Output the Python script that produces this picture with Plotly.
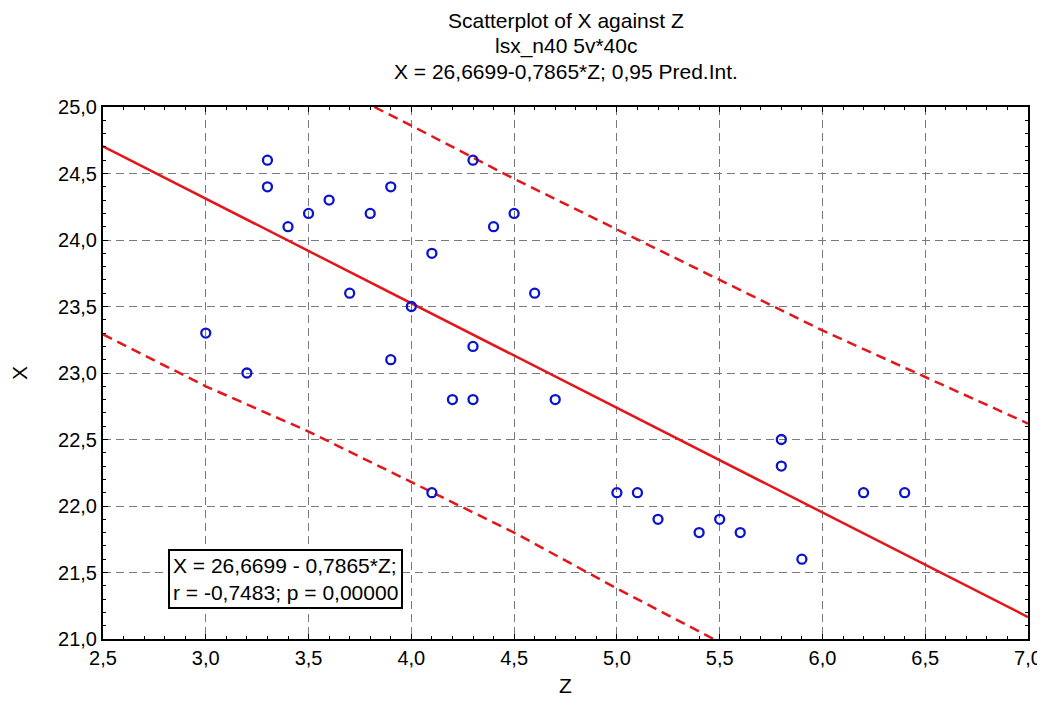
import plotly.graph_objects as go

# Observed data (Z, X)
z_vals = [3.0, 3.2, 3.3, 3.3, 3.4, 3.5, 3.6, 3.7, 3.8, 3.9, 3.9, 4.0, 4.1, 4.1,
          4.2, 4.3, 4.3, 4.3, 4.4, 4.5, 4.6, 4.7, 5.0, 5.1, 5.2, 5.4, 5.5, 5.6,
          5.8, 5.8, 5.9, 6.2, 6.4]
x_vals = [23.3, 23.0, 24.6, 24.4, 24.1, 24.2, 24.3, 23.6, 24.2, 24.4, 23.1, 23.5, 23.9, 22.1,
          22.8, 22.8, 23.2, 24.6, 24.1, 24.2, 23.6, 22.8, 22.1, 22.1, 21.9, 21.8, 21.9, 21.8,
          22.5, 22.3, 21.6, 22.1, 22.1]

# Regression line end points
reg_z = [2.5, 7.0]
reg_x = [24.704, 21.165]

# 0.95 prediction interval
upper_z = [3.82, 4.0, 4.5, 5.0, 5.5, 6.0, 6.5, 7.0]
upper_x = [25.0, 24.86, 24.46, 24.08, 23.70, 23.32, 22.97, 22.62]
lower_z = [2.5, 3.0, 3.5, 4.0, 4.5, 5.0, 5.47]
lower_x = [23.29, 22.90, 22.56, 22.18, 21.80, 21.38, 21.0]

x_ticks = [2.5, 3.0, 3.5, 4.0, 4.5, 5.0, 5.5, 6.0, 6.5, 7.0]
y_ticks = [21.0, 21.5, 22.0, 22.5, 23.0, 23.5, 24.0, 24.5, 25.0]

title_lines = ["Scatterplot of X against Z",
               "lsx_n40 5v*40c",
               "X = 26,6699-0,7865*Z; 0,95 Pred.Int."]

RED = "#E3161B"
BLUE = "#0A14CC"
FONT = "Liberation Sans, Arial, sans-serif"

# page has an 8px body margin; compensate so the plot area lands where the reference has it
OFF = 8
W, H = 1045 - OFF, 710 - OFF
ML, MR, MT, MB = 103 - OFF, 17, 107 - OFF, 71
PH = H - MT - MB

fig = go.Figure()
fig.add_trace(go.Scatter(x=upper_z, y=upper_x, mode="lines",
                         line=dict(color=RED, width=2.5, dash="10px,6px"), hoverinfo="skip"))
fig.add_trace(go.Scatter(x=lower_z, y=lower_x, mode="lines",
                         line=dict(color=RED, width=2.5, dash="10px,6px"), hoverinfo="skip"))
fig.add_trace(go.Scatter(x=reg_z, y=reg_x, mode="lines",
                         line=dict(color=RED, width=2.5), hoverinfo="skip"))
fig.add_trace(go.Scatter(x=z_vals, y=x_vals, mode="markers",
                         marker=dict(symbol="circle-open", size=9, color=BLUE,
                                     line=dict(color=BLUE, width=2.3))))

axis_common = dict(
    showline=True, linecolor="black", linewidth=2, mirror="allticks",
    ticks="inside", ticklen=5, tickwidth=1, tickcolor="black",
    showgrid=True, gridcolor="#7a7a7a", gridwidth=1, griddash="8px,5px",
    zeroline=False, tickformat=".1f", automargin=False,
    tickfont=dict(family=FONT, size=20, color="black"),
)

fig.update_xaxes(range=[2.5, 7.0], tickvals=x_ticks,
                 minor=dict(ticks="inside", dtick=0.1, ticklen=3, tickcolor="black", showgrid=False),
                 title=dict(text="Z", font=dict(family=FONT, size=21, color="black"), standoff=10),
                 **axis_common)
fig.update_yaxes(range=[21.0, 25.0], tickvals=y_ticks,
                 minor=dict(ticks="inside", dtick=0.1, ticklen=3, tickcolor="black", showgrid=False),
                 title=dict(text="X", font=dict(family=FONT, size=21, color="black"), standoff=34),
                 **axis_common)

fig.add_annotation(
    x=2.816, y=21.45, xref="x", yref="y", xanchor="left", yanchor="middle",
    text="X = 26,6699 - 0,7865*Z;<br>r = -0,7483; p = 0,00000",
    showarrow=False, align="left",
    font=dict(family=FONT, size=21, color="black"),
    bgcolor="white", bordercolor="black", borderwidth=2, borderpad=3,
)

for txt, ypx in zip(title_lines, [20, 46, 72]):
    fig.add_annotation(
        x=0.5, xref="paper", xanchor="center",
        y=(H - MB - (ypx - OFF)) / PH, yref="paper", yanchor="middle",
        text=txt, showarrow=False,
        font=dict(family=FONT, size=21, color="black"),
    )

fig.update_layout(
    width=W, height=H,
    margin=dict(l=ML, r=MR, t=MT, b=MB),
    paper_bgcolor="white", plot_bgcolor="white",
    showlegend=False,
    separators=", ",
)

fig.write_html("out.html")
